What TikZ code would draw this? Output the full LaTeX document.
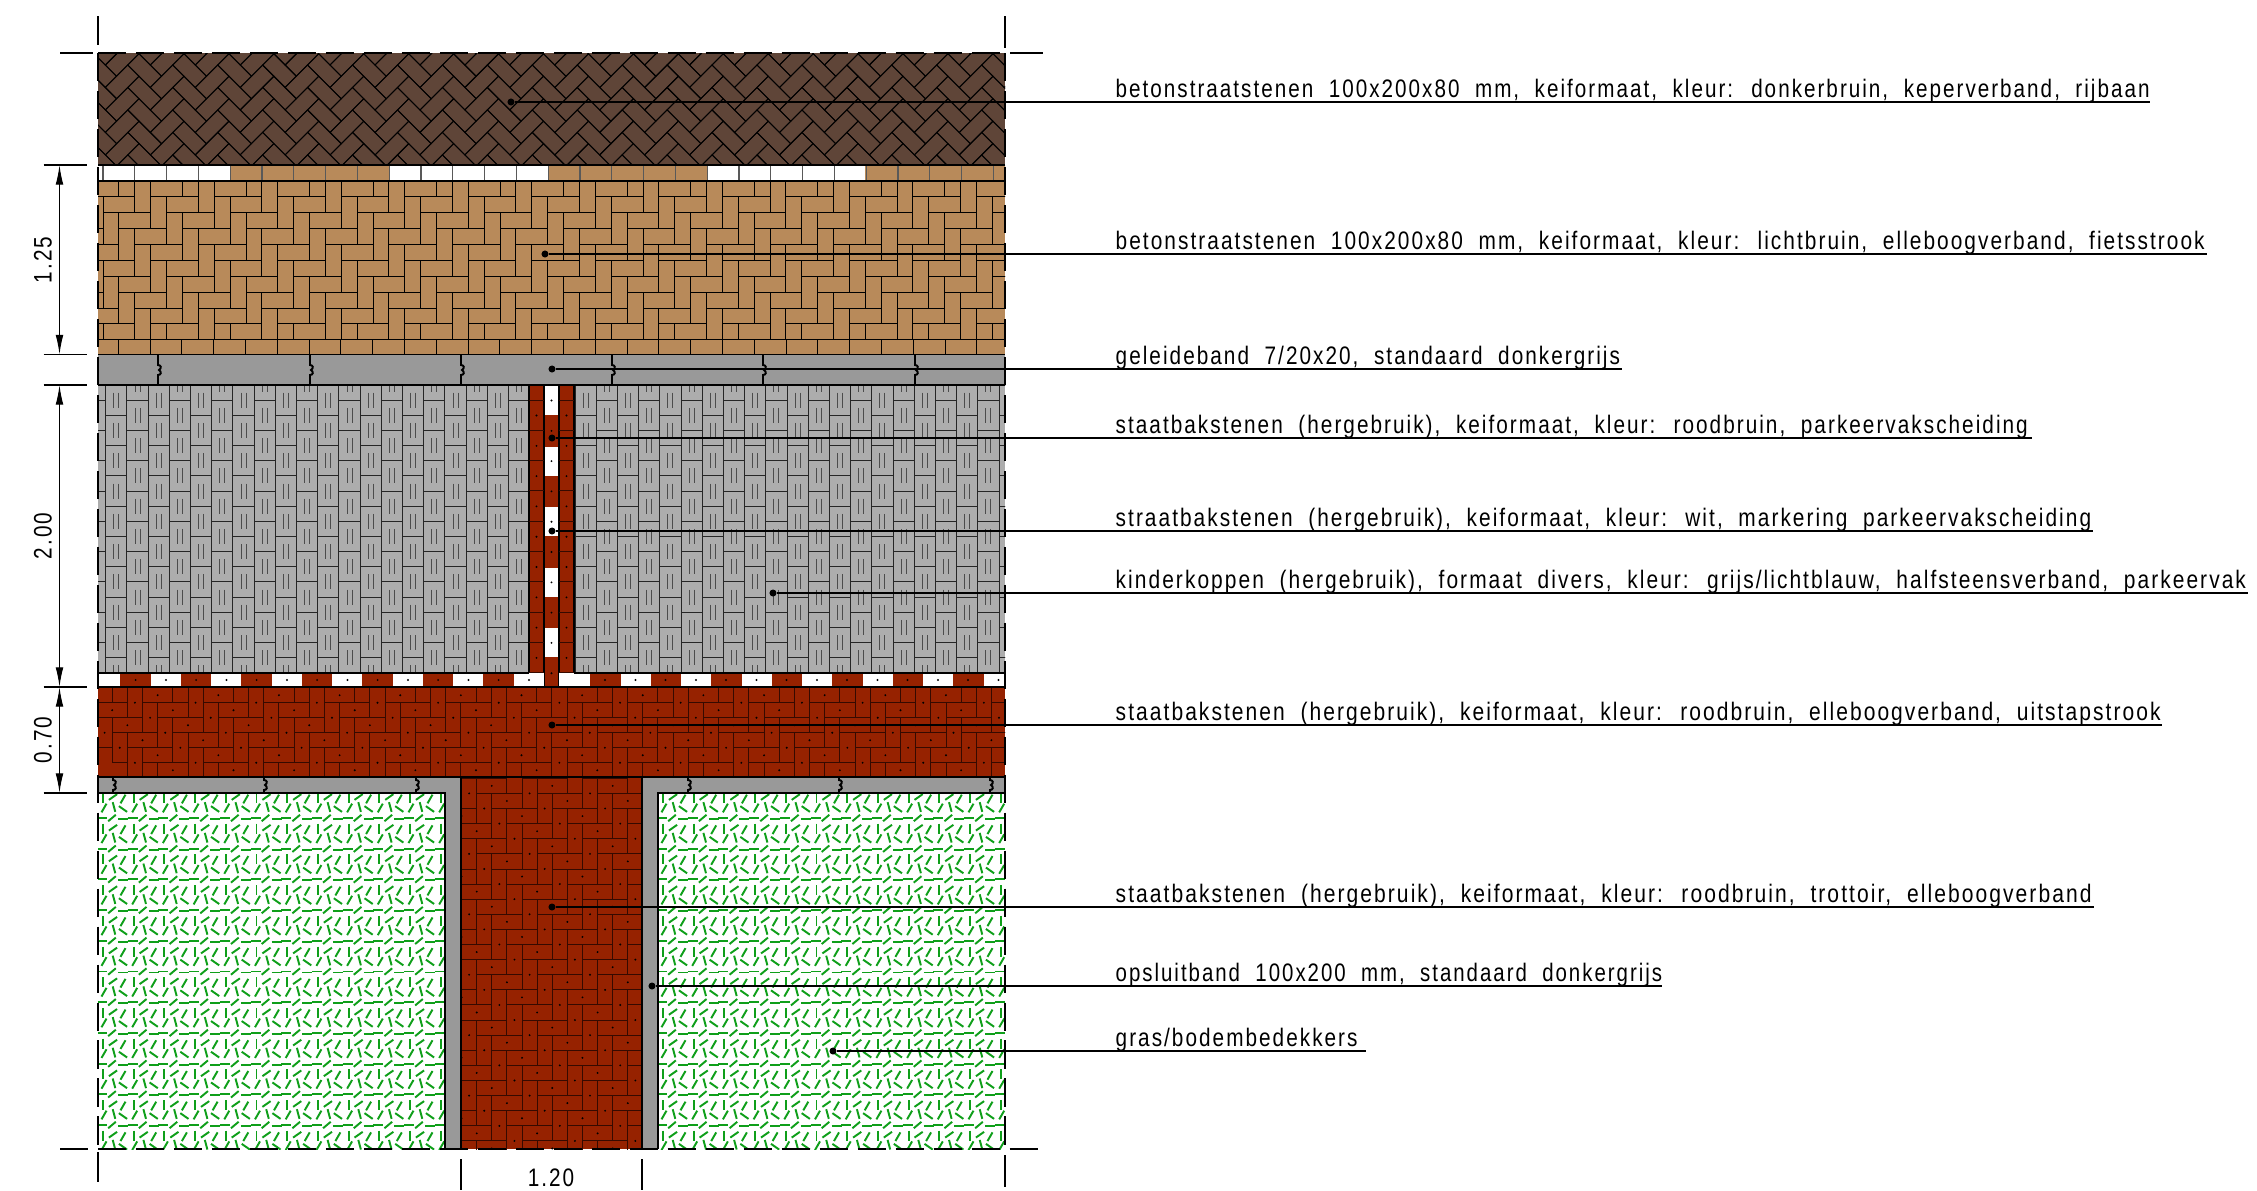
\documentclass[tikz,border=0pt]{standalone}
\usepackage{fontspec}
\setmainfont{Liberation Sans}[FakeStretch=.82,LetterSpace=8,WordSpace=2]
\usepackage{tikz}
\usetikzlibrary{arrows.meta}

\definecolor{darkbrick}{HTML}{5F4538}
\definecolor{lightbrick}{HTML}{B88A5A}
\definecolor{redbrick}{HTML}{962200}
\definecolor{redseam}{HTML}{360A00}
\definecolor{kerbgrey}{HTML}{999999}
\definecolor{koppgrey}{HTML}{ADADAD}
\definecolor{grassgreen}{HTML}{0F9F1A}

\tikzset{
  seam/.style={line width=.26pt,black},
  rseam/.style={line width=.26pt,redseam},
  edge/.style={line width=.55pt,black},
  grassline/.style={line width=.55pt,grassgreen},
  outline/.style={line width=.6pt,black,dash pattern=on 8pt off 2.8pt},
  dimline/.style={line width=.35pt,black},
  dimarrow/.style={line width=.35pt,black,{Latex[length=5.6pt,width=2.2pt]}-{Latex[length=5.6pt,width=2.2pt]}},
  leader/.style={line width=.5pt,black},
  tip/.style={circle,fill=black,inner sep=0pt,minimum size=2pt},
  lab/.style={anchor=base west,inner sep=0pt,font=\fontsize{7.2}{9}\selectfont},
  dimlab/.style={inner sep=0pt,font=\fontsize{7.2}{9}\selectfont}
}

% elbow bond on a grid of half bricks
\newcommand{\bond}[3]{
  \foreach \r in {#1} \foreach \k in {#2} {
    \draw[#3] ({4*\k+\r},\r) rectangle ++(2,1);
    \draw[#3] ({4*\k+\r-1},\r) rectangle ++(1,2);
  }
}
\newcommand{\bonddots}[2]{
  \foreach \r in {#1} \foreach \k in {#2} {
    \fill ({4*\k+\r+1},{\r+.5}) circle (.3pt);
    \fill ({4*\k+\r-.5},{\r+1}) circle (.3pt);
  }
}
\newcommand{\koppen}[2]{
  \foreach \i in {#2} \foreach \j in {0,...,11} {
    \pgfmathsetmacro\kx{#1+21.2*\i}
    \pgfmathsetmacro\ky{354.7+30.3*\j-15.15*mod(\i+2,2)}
    \draw[line width=.28pt,black!85] (\kx,\ky) rectangle ++(21.2,30.3);
    \draw[line width=.25pt,black!70] ({\kx+8.1},{\ky+7.6}) -- ++(0,15);
    \draw[line width=.25pt,black!70] ({\kx+13.1},{\ky+7.6}) -- ++(0,15);
  }
}
\newcommand{\grasstile}{
  \foreach \a/\b/\t in {5/5/90,15/4/-35,25/6/-60,6/15/-60,16/14/75,25/16/35,4/25/0,14/25/-40,25/26/0}
    \draw[grassline] ({\a-5*cos(\t)},{\b-5*sin(\t)}) -- ({\a+5*cos(\t)},{\b+5*sin(\t)});
}
\newcommand{\tongue}[4]{
  \draw[edge,#4,shift={(#1,#2)}] (0,0) -- (0,{#3/2-5}) .. controls (3,{#3/2-5}) and (4,{#3/2-2}) .. (1,{#3/2}) .. controls (4,{#3/2+2}) and (3,{#3/2+5}) .. (0,{#3/2+5}) -- (0,#3);
}

\begin{document}
\begin{tikzpicture}[x=0.01cm,y=-0.01cm]
\useasboundingbox (0,0) rectangle (2257,1190);

\begin{scope}
\clip (98,53) rectangle (1005,165);
\fill[darkbrick] (98,53) rectangle (1005,165);
\begin{scope}[shift={(981.7,65)},rotate=-135,x=0.1588cm,y=0.1588cm]
\bond{-42,...,7}{-2,...,22}{seam}
\end{scope}
\end{scope}

\begin{scope}
\clip (98,165) rectangle (1005,181);
\fill[white] (98,165) rectangle (1005,181);
\foreach \x in {230,548,865} \fill[lightbrick] (\x,165) rectangle ++(158.5,16);
\foreach \i in {0,...,28} \draw[line width=.3pt,black!65] ({103+31.8*\i},165) -- ++(0,16);
\end{scope}

\begin{scope}
\clip (98,181) rectangle (1005,339.5);
\fill[lightbrick] (98,181) rectangle (1005,340);
\begin{scope}[shift={(150.7,181)},x=0.1587cm,y=-0.1587cm]
\bond{-1,...,10}{-3,...,14}{seam}
\end{scope}
\end{scope}
\fill[lightbrick] (98,340) rectangle (1005,354);
\foreach \i in {0,...,27} \draw[seam] ({118.3+31.8*\i},340) -- ++(0,14);

\fill[kerbgrey] (98,355) rectangle (1005,385);
\foreach \x in {158,310,461,612,763,915} {\tongue{\x}{355}{30}{}}

\begin{scope}
\clip (98,385) rectangle (529,673);
\fill[koppgrey] (98,385) rectangle (529,673);
\koppen{105.7}{-1,...,20}
\end{scope}
\begin{scope}
\clip (574,385) rectangle (1005,673);
\fill[koppgrey] (574,385) rectangle (1005,673);
\koppen{575}{0,...,20}
\end{scope}

\fill[redbrick] (529,385) rectangle (574,687);
\foreach \i in {0,...,4} {
  \fill[white] (544,{386+60.5*\i}) rectangle ++(15,29);
}
\draw[edge] (529,385) -- (529,673) (544,385) -- (544,687) (559,385) -- (559,687) (574,385) -- (574,673);
\foreach \i in {0,...,9} {
  \draw[rseam] (529,{400+30.3*\i}) -- (544,{400+30.3*\i}) (559,{400+30.3*\i}) -- (574,{400+30.3*\i});
  \fill (536.5,{415.5+30.3*\i}) circle (.3pt);
  \fill (566.5,{415.5+30.3*\i}) circle (.3pt);
  \fill (551.5,{400.5+30.3*\i}) circle (.3pt);
}

\fill[white] (98,673) rectangle (544,687);
\fill[white] (559,673) rectangle (1005,687);
\foreach \i in {0,...,6} {
  \fill[redbrick] ({120.4+60.5*\i},673) rectangle ++(30.5,14);
  \fill ({135.6+60.5*\i},680) circle (.3pt);
  \fill ({166+60.5*\i},680) circle (.3pt);
}
\foreach \i in {0,...,6} {
  \fill[redbrick] ({590+60.5*\i},673) rectangle ++(30.5,14);
  \fill ({605+60.5*\i},680) circle (.3pt);
  \fill ({635.5+60.5*\i},680) circle (.3pt);
}

\begin{scope}
\clip (98,687) rectangle (1005,777);
\fill[redbrick] (98,687) rectangle (1005,777);
\begin{scope}[shift={(445.7,687.7)},x=0.1515cm,y=-0.15cm]
\bond{-1,...,5}{-6,...,10}{rseam}
\bonddots{0,...,5}{-6,...,10}
\end{scope}
\end{scope}

\begin{scope}
\clip (98,793) rectangle (445,1149);
\foreach \i in {0,...,11} \foreach \j in {0,...,11} {
  \begin{scope}[shift={({98+30.7*\i},{793+30.7*\j})}]
  \grasstile
  \end{scope}
}
\end{scope}
\begin{scope}
\clip (658,793) rectangle (1005,1149);
\foreach \i in {0,...,11} \foreach \j in {0,...,11} {
  \begin{scope}[shift={({658+30.7*\i},{793+30.7*\j})}]
  \grasstile
  \end{scope}
}
\end{scope}

\fill[kerbgrey] (98,777) -- (461,777) -- (461,1149) -- (445,1149) -- (445,793) -- (98,793) -- cycle;
\fill[kerbgrey] (642,777) -- (1005,777) -- (1005,793) -- (658,793) -- (658,1149) -- (642,1149) -- cycle;
\foreach \x in {113,264,416,688,839,990} {\tongue{\x}{777}{16}{}}
\foreach \y in {823,975,1127} {
  \tongue{461}{\y}{16}{rotate=-90}
  \tongue{642}{\y}{16}{rotate=90}
}

\begin{scope}
\clip (461,777) rectangle (642,1149);
\fill[redbrick] (461,777) rectangle (642,1149);
\begin{scope}[shift={(476.7,778.3)},x=0.151cm,y=-0.151cm]
\bond{-1,...,25}{-7,...,3}{rseam}
\bonddots{0,...,24}{-7,...,3}
\end{scope}
\end{scope}

\draw[edge] (98,165) -- (1005,165);
\draw[edge] (98,181) -- (1005,181);
\draw[edge] (98,339.5) -- (1005,339.5);
\draw[edge] (98,354.5) -- (1005,354.5);
\draw[edge] (98,385) -- (1005,385);
\draw[edge] (98,673) -- (529,673) (574,673) -- (1005,673);
\draw[edge] (98,687) -- (1005,687);
\draw[edge] (98,777) -- (1005,777);
\draw[edge] (98,793) -- (445,793) -- (445,1149) (461,777) -- (461,1149);
\draw[edge] (1005,793) -- (658,793) -- (658,1149) (642,777) -- (642,1149);

\draw[outline] (98,53) -- (1005,53);
\draw[outline] (98,53) -- (98,1149);
\draw[outline] (1005,53) -- (1005,1149);
\draw[outline] (60,1149) -- (1043,1149);

\draw[dimline] (60,53) -- (93,53);
\draw[dimline] (1010,53) -- (1043,53);
\draw[dimline] (98,16) -- (98,45);
\draw[dimline] (1005,16) -- (1005,48);
\draw[dimline] (98,1152) -- (98,1182);
\draw[dimline] (1005,1155) -- (1005,1187);
\draw[dimline] (461,1159) -- (461,1190);
\draw[dimline] (642,1159) -- (642,1190);
\foreach \y in {165,354.5,385,687,793} \draw[dimline] (43.5,\y) -- (87,\y);

\coordinate (dima) at (59.5,165);
\coordinate (dimb) at (59.5,354.5);
\coordinate (dimc) at (59.5,385);
\coordinate (dimd) at (59.5,687);
\coordinate (dime) at (59.5,793);
\draw[dimarrow] (dima) -- (dimb);
\draw[dimarrow] (dimc) -- (dimd);
\draw[dimarrow] (dimd) -- (dime);
\node[dimlab,rotate=90] (maata) at (43,260) {1.25};
\node[dimlab,rotate=90] (maatb) at (43,536) {2.00};
\node[dimlab,rotate=90] (maatc) at (43,740) {0.70};
\node[dimlab] (maatd) at (551,1178) {1.20};

\node[tip] (p1) at (511,102) {};
\coordinate (e1) at (2150,102);
\draw[leader] (p1) -- (e1);
\node[lab,xscale=.995] (t1) at (1115,97) {betonstraatstenen 100x200x80 mm, keiformaat, kleur: donkerbruin, keperverband, rijbaan};

\node[tip] (p2) at (545,254) {};
\coordinate (e2) at (2207,254);
\draw[leader] (p2) -- (e2);
\node[lab,xscale=1.005] (t2) at (1115,249) {betonstraatstenen 100x200x80 mm, keiformaat, kleur: lichtbruin, elleboogverband, fietsstrook};

\node[tip] (p3) at (552,369) {};
\coordinate (e3) at (1622,369);
\draw[leader] (p3) -- (e3);
\node[lab] (t3) at (1115,364) {geleideband 7/20x20, standaard donkergrijs};

\node[tip] (p4) at (552,438) {};
\coordinate (e4) at (2032,438);
\draw[leader] (p4) -- (e4);
\node[lab] (t4) at (1115,433) {staatbakstenen (hergebruik), keiformaat, kleur: roodbruin, parkeervakscheiding};

\node[tip] (p5) at (552,531) {};
\coordinate (e5) at (2093,531);
\draw[leader] (p5) -- (e5);
\node[lab,xscale=1.005] (t5) at (1115,526) {straatbakstenen (hergebruik), keiformaat, kleur: wit, markering parkeervakscheiding};

\node[tip] (p6) at (773,593) {};
\coordinate (e6) at (2248,593);
\draw[leader] (p6) -- (e6);
\node[lab,xscale=1.009] (t6) at (1115,588) {kinderkoppen (hergebruik), formaat divers, kleur: grijs/lichtblauw, halfsteensverband, parkeervak};

\node[tip] (p7) at (552,725) {};
\coordinate (e7) at (2162,725);
\draw[leader] (p7) -- (e7);
\node[lab,xscale=1.012] (t7) at (1115,720) {staatbakstenen (hergebruik), keiformaat, kleur: roodbruin, elleboogverband, uitstapstrook};

\node[tip] (p8) at (552,907) {};
\coordinate (e8) at (2094,907);
\draw[leader] (p8) -- (e8);
\node[lab,xscale=1.014] (t8) at (1115,902) {staatbakstenen (hergebruik), keiformaat, kleur: roodbruin, trottoir, elleboogverband};

\node[tip] (p9) at (652,986) {};
\coordinate (e9) at (1662,986);
\draw[leader] (p9) -- (e9);
\node[lab,xscale=.984] (t9) at (1115,981) {opsluitband 100x200 mm, standaard donkergrijs};

\node[tip] (p10) at (833,1051) {};
\coordinate (e10) at (1366,1051);
\draw[leader] (p10) -- (e10);
\node[lab] (t10) at (1115,1046) {gras/bodembedekkers};

\end{tikzpicture}
\end{document}
